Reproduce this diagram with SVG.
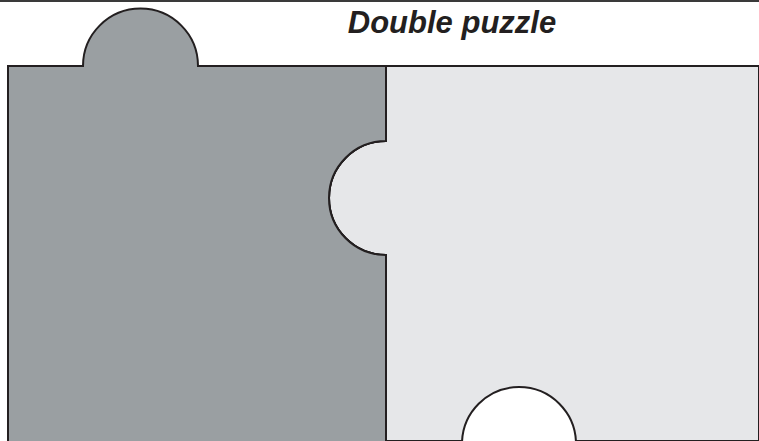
<svg xmlns="http://www.w3.org/2000/svg" width="759" height="441" viewBox="0 0 759 441">
<style>
.edge{stroke:#231f20;stroke-width:2;stroke-linejoin:miter}
.title{font-family:"Liberation Sans",Arial,sans-serif;font-weight:bold;font-style:italic;font-size:31px;fill:#231f20}
</style>
<rect width="759" height="441" fill="#ffffff"/>
<line x1="0" y1="1" x2="759" y2="1" stroke="#3a3a3a" stroke-width="2"/>
<g id="title"><text class="title" x="452" y="33" text-anchor="middle">Double puzzle</text></g>
<g id="right-piece">
<path class="edge" fill="#e6e7e9" d="M759,66 H386 V141 A57,57 0 0 0 386,255 V441 H759 Z" stroke="none"/>
<path class="edge" fill="none" d="M759,66 H386 V141 A57,57 0 0 0 386,255 V442"/>
</g>
<g id="left-piece">
<path class="edge" fill="#9a9fa2" d="M8,442 V66 H83 A57.5,57.5 0 0 1 198,66 H386 V141 A57,57 0 0 0 386,255 V442"/>
</g>
<g id="hole">
<circle class="edge" cx="519" cy="444" r="57" fill="#ffffff"/>
</g>
</svg>
